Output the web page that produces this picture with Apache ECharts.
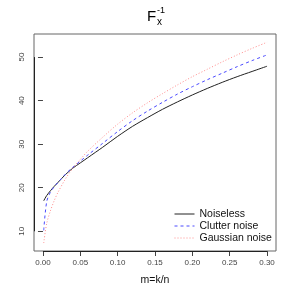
<!DOCTYPE html>
<html>
<head>
<meta charset="utf-8">
<script src="https://cdn.jsdelivr.net/npm/echarts@6/dist/echarts.min.js"></script>
<style>html,body{margin:0;padding:0;background:#fff;}#c{width:294px;height:294px;}</style>
</head>
<body>
<div id="c"></div>
<script>
// ---- data ----
var mValues = [0.001, 0.005, 0.01, 0.015, 0.02, 0.03, 0.04, 0.05, 0.06, 0.08, 0.10, 0.12, 0.14, 0.16, 0.18, 0.20, 0.22, 0.24, 0.26, 0.28, 0.30];
var noiseless = [17.0, 18.2, 19.3, 20.3, 21.2, 23.0, 24.5, 25.7, 26.9, 29.3, 31.8, 34.1, 36.1, 38.0, 39.7, 41.3, 42.8, 44.2, 45.5, 46.7, 47.9];
var clutter = [10.2, 16.8, 19.0, 20.2, 21.2, 23.1, 24.7, 26.1, 27.5, 30.2, 32.9, 35.4, 37.6, 39.6, 41.5, 43.2, 44.8, 46.3, 47.8, 49.2, 50.5];
var gaussian = [7.3, 11.8, 14.7, 17.0, 18.9, 22.0, 24.5, 26.5, 28.4, 31.6, 34.6, 37.2, 39.5, 41.6, 43.6, 45.5, 47.2, 48.9, 50.5, 52.0, 53.4];
var xTicks = [0, 0.05, 0.10, 0.15, 0.20, 0.25, 0.30];
var yTicks = [10, 20, 30, 40, 50];
var seriesNames = ['Noiseless', 'Clutter noise', 'Gaussian noise'];
var xLabel = 'm=k/n';

var colors = ['#222', '#4a4aff', '#ff8c8c'];
var dashes = ['solid', [3, 3], [1, 2]];

function pairs(xs, ys) { return xs.map(function (x, i) { return [x, ys[i]]; }); }

var FONT = 'Liberation Sans, Arial, Helvetica, sans-serif';
var chart = echarts.init(document.getElementById('c'), null, { renderer: 'canvas' });

var seriesData = [noiseless, clutter, gaussian];

var option = {
  animation: false,
  backgroundColor: '#fff',
  grid: { left: 34, right: 18, top: 34, bottom: 43, show: true, borderColor: '#666', borderWidth: 1, backgroundColor: 'transparent' },
  xAxis: {
    type: 'value', min: -0.012, max: 0.312,
    splitLine: { show: false },
    axisLine: { show: false },
    axisTick: { show: true, inside: false, length: 5, customValues: xTicks, lineStyle: { color: '#444', width: 1 } },
    axisLabel: { customValues: xTicks, fontSize: 8, color: '#444', fontFamily: FONT, margin: 8,
      formatter: function (v) { return v.toFixed(2); } },
    name: xLabel, nameLocation: 'middle', nameGap: 24,
    nameTextStyle: { fontSize: 10.5, color: '#111', fontFamily: FONT }
  },
  yAxis: {
    type: 'value', min: 5.47, max: 55.3,
    splitLine: { show: false },
    axisLine: { show: false },
    axisTick: { show: true, inside: false, length: 5, customValues: yTicks, lineStyle: { color: '#444', width: 1 } },
    axisLabel: { customValues: yTicks, fontSize: 8, color: '#444', fontFamily: FONT, margin: 8, rotate: 90 }
  },
  legend: {
    orient: 'vertical', left: 169, top: 203.5, itemWidth: 20, itemHeight: 11, itemGap: 1,
    itemStyle: { color: 'transparent', borderWidth: 0, opacity: 0 },
    textStyle: { fontSize: 10.5, color: '#111', fontFamily: FONT },
    data: seriesNames.map(function (n, i) {
      return { name: n, lineStyle: { color: colors[i], width: 1, type: dashes[i] } };
    })
  },
  series: seriesNames.map(function (n, i) {
    return { name: n, type: 'line', data: pairs(mValues, seriesData[i]), symbol: 'none', smooth: 0.3,
      lineStyle: { color: colors[i], width: 1, type: dashes[i] }, itemStyle: { color: colors[i] } };
  }),
  graphic: [
    { type: 'text', left: 147, top: 9, style: { text: 'F', fontSize: 15, fontFamily: FONT, fill: '#000' } },
    { type: 'text', left: 157, top: 17, style: { text: 'x', fontSize: 10, fontFamily: FONT, fill: '#000' } },
    { type: 'text', left: 157, top: 6, style: { text: '-1', fontSize: 9, fontFamily: FONT, fill: '#000' } }
  ]
};
chart.setOption(option);

// darker axis segments spanning the tick range (as R's axis() draws over box())
var x0 = chart.convertToPixel({ xAxisIndex: 0 }, xTicks[0]);
var x1 = chart.convertToPixel({ xAxisIndex: 0 }, xTicks[xTicks.length - 1]);
var y0 = chart.convertToPixel({ yAxisIndex: 0 }, yTicks[0]);
var y1 = chart.convertToPixel({ yAxisIndex: 0 }, yTicks[yTicks.length - 1]);
var yb = chart.convertToPixel({ yAxisIndex: 0 }, 5.47);
var xl = chart.convertToPixel({ xAxisIndex: 0 }, -0.012);
var g = option.graphic.slice();
g.push({ type: 'line', shape: { x1: x0, y1: Math.round(yb) + 0.5, x2: x1, y2: Math.round(yb) + 0.5 }, style: { stroke: '#222', lineWidth: 1 }, z: 10 });
g.push({ type: 'line', shape: { x1: Math.round(xl) + 0.5, y1: y0, x2: Math.round(xl) + 0.5, y2: y1 }, style: { stroke: '#222', lineWidth: 1 }, z: 10 });
chart.setOption({ graphic: g });
</script>
</body>
</html>
